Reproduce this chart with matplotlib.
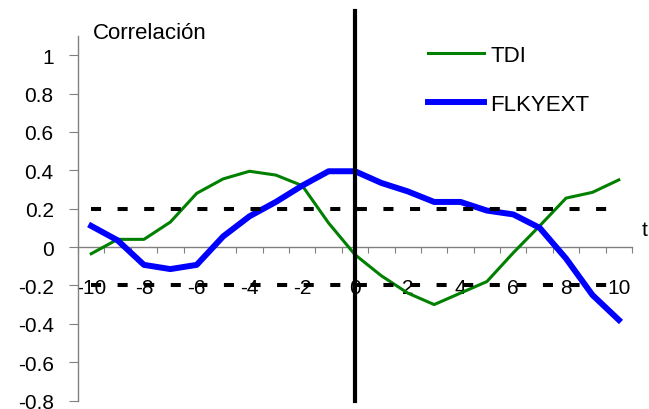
import numpy as np
import matplotlib
matplotlib.use("Agg")
from matplotlib import pyplot as plt

plt.rcParams['font.family'] = ['Liberation Sans', 'DejaVu Sans']
plt.rcParams['axes.unicode_minus'] = False

# Datos
lags = list(range(-10, 11))
tdi = [-0.035, 0.04, 0.04, 0.13, 0.28, 0.355, 0.395, 0.375, 0.32, 0.125, -0.04,
       -0.15, -0.24, -0.30, -0.24, -0.18, -0.03, 0.11, 0.255, 0.285, 0.35]
flkyext = [0.11, 0.035, -0.093, -0.115, -0.093, 0.055, 0.16, 0.235, 0.32, 0.395, 0.395,
           0.334, 0.29, 0.235, 0.235, 0.19, 0.17, 0.10, -0.06, -0.25, -0.38]
banda = 0.2
yticks = [-0.8, -0.6, -0.4, -0.2, 0, 0.2, 0.4, 0.6, 0.8, 1]
xlabels = list(range(-10, 11, 2))

fig = plt.figure(figsize=(6.49, 4.10), dpi=100)
ax = fig.add_axes([78/649, 1-401.5/410, (632-78)/649, (401.5-37)/410])

ax.plot(lags, tdi, color='#008000', lw=2.2, label='TDI', zorder=3)
ax.plot(lags, flkyext, color='#0000ff', lw=4.3, label='FLKYEXT', zorder=4)

# bandas de significancia
ax.plot(lags, [banda]*len(lags), color='k', lw=2.9, linestyle=(0, (2.5, 4.1)), zorder=5)
ax.plot(lags, [-banda]*len(lags), color='k', lw=2.9, linestyle=(0, (2.5, 4.1)), zorder=5)

# linea vertical en 0
ax.axvline(0, ymin=0, ymax=1+25/364.5, color='k', lw=3, clip_on=False, zorder=6)

ax.set_xlim(-10.5, 10.5)
ax.set_ylim(-0.8, 1.1)

ax.spines['top'].set_visible(False)
ax.spines['right'].set_visible(False)
ax.spines['bottom'].set_position(('data', 0))
for s in ['left', 'bottom']:
    ax.spines[s].set_color('#808080')
    ax.spines[s].set_linewidth(1)

ax.set_yticks(yticks)
ax.set_yticklabels([f"{v:g}" for v in yticks])
ax.tick_params(axis='y', direction='out', length=6.5, color='#808080', pad=11, labelsize=15)

ax.set_xticks(np.arange(-10.5, 11, 1))
ax.set_xticklabels([])
ax.set_xticks(xlabels, minor=True)
ax.set_xticklabels([str(v) for v in xlabels], minor=True)
ax.tick_params(axis='x', which='major', direction='out', length=4.5, color='#808080')
ax.tick_params(axis='x', which='minor', length=0, pad=22, labelsize=15)

ax.legend(loc='upper left', bbox_to_anchor=(428/649, 1-46/410), bbox_transform=fig.transFigure,
          frameon=False, fontsize=16, handlelength=2.5, handletextpad=0.3,
          labelspacing=1.25, borderpad=0, borderaxespad=0)

fig.text(93/649, 1-39/410, 'Correlación', fontsize=16, va='baseline', ha='left')
fig.text(642/649, 1-231/410, 't', fontsize=15, va='center', ha='left')

fig.savefig('out.png', dpi=100)
